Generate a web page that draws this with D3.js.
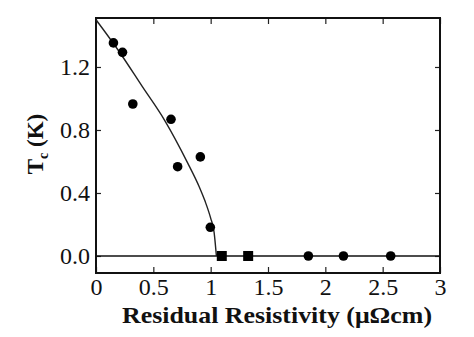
<!DOCTYPE html>
<html>
<head>
<meta charset="utf-8">
<script src="https://cdn.jsdelivr.net/npm/d3@7"></script>
<style>
  body { margin: 0; background: #fff; }
  text { font-family: "Liberation Serif", "Times New Roman", serif; fill: #111; }
</style>
</head>
<body>
<svg id="chart" width="474" height="337"></svg>
<script>
// measured points (resistivity, Tc)
var circleX = [0.152, 0.231, 0.321, 0.654, 0.712, 0.91, 0.997, 1.852, 2.158, 2.57]
var circleY = [1.353, 1.293, 0.965, 0.868, 0.567, 0.629, 0.182, 0, 0, 0]
var squareX = [1.097, 1.327]
var squareY = [0, 0]
// fitted curve
var curveX = [0, 0.2, 0.4, 0.6, 0.8, 0.9, 0.95, 1.0, 1.03, 1.05]
var curveY = [1.5, 1.30, 1.08, 0.86, 0.59, 0.44, 0.35, 0.24, 0.15, 0]
var xTicks = [0, 0.5, 1, 1.5, 2, 2.5, 3]
var yTicks = [0, 0.4, 0.8, 1.2]

var svg = d3.select("#chart"),
    margin = { top: 18, left: 96, bottom: 64, right: 34 },
    width = +svg.attr("width"),
    height = +svg.attr("height");

var x = d3.scaleLinear()
    .domain([0, 3])
    .range([margin.left, width - margin.right])
var y = d3.scaleLinear()
    .domain([-0.108, 1.511])
    .range([height - margin.bottom, margin.top])

// ticks on all four sides, pointing in
svg.append("g")
    .attr("transform", `translate(0,${height - margin.bottom})`)
    .call(d3.axisBottom(x).tickValues(xTicks).tickSize(-6).tickPadding(5)
        .tickFormat(d => d3.format("")(d)))
    .call(g => g.select(".domain").remove())
    .selectAll("text").attr("font-size", 24)
svg.append("g")
    .attr("transform", `translate(0,${margin.top})`)
    .call(d3.axisTop(x).tickValues(xTicks).tickSize(-6).tickFormat(""))
    .call(g => g.select(".domain").remove())
svg.append("g")
    .attr("transform", `translate(${margin.left},0)`)
    .call(d3.axisLeft(y).tickValues(yTicks).tickSize(-5).tickPadding(6)
        .tickFormat(d3.format(".1f")))
    .call(g => g.select(".domain").remove())
    .selectAll("text").attr("font-size", 24).attr("dy", "0.3em")
svg.append("g")
    .attr("transform", `translate(${width - margin.right},0)`)
    .call(d3.axisRight(y).tickValues(yTicks).tickSize(-5).tickFormat(""))
    .call(g => g.select(".domain").remove())

svg.selectAll(".tick line").attr("stroke", "#222").attr("stroke-width", 1.2)

// frame
svg.append("rect")
    .attr("x", margin.left)
    .attr("y", margin.top)
    .attr("width", width - margin.left - margin.right)
    .attr("height", height - margin.top - margin.bottom)
    .attr("fill", "none")
    .attr("stroke", "#111")
    .attr("stroke-width", 2)

// zero line
svg.append("line")
    .attr("x1", x(0)).attr("x2", x(3))
    .attr("y1", y(0)).attr("y2", y(0))
    .attr("stroke", "#111").attr("stroke-width", 1.5)

var line = d3.line()
    .x(d => x(d[0]))
    .y(d => y(d[1]))
    .curve(d3.curveMonotoneX)
svg.append("path")
    .datum(d3.zip(curveX, curveY))
    .attr("d", line)
    .attr("fill", "none")
    .attr("stroke", "#222")
    .attr("stroke-width", 1.4)

svg.selectAll(".dot")
    .data(d3.zip(circleX, circleY))
    .enter().append("circle")
    .attr("class", "dot")
    .attr("cx", d => x(d[0]))
    .attr("cy", d => y(d[1]))
    .attr("r", 4.8)
    .attr("fill", "#000")

svg.selectAll(".sq")
    .data(d3.zip(squareX, squareY))
    .enter().append("rect")
    .attr("class", "sq")
    .attr("x", d => x(d[0]) - 5)
    .attr("y", d => y(d[1]) - 5)
    .attr("width", 10)
    .attr("height", 10)
    .attr("fill", "#000")

// axis titles
svg.append("text")
    .attr("x", 122)
    .attr("y", 323)
    .attr("font-size", 23)
    .attr("font-weight", "bold")
    .attr("textLength", 310)
    .attr("lengthAdjust", "spacingAndGlyphs")
    .text("Residual Resistivity (μΩcm)")

var yl = svg.append("text")
    .attr("transform", "translate(43,144) rotate(-90)")
    .attr("text-anchor", "middle")
    .attr("font-size", 23)
    .attr("font-weight", "bold")
yl.append("tspan").text("T")
yl.append("tspan").attr("font-size", 14).attr("dy", 5).text("c")
yl.append("tspan").attr("dy", -5).text(" (K)")
</script>
</body>
</html>
